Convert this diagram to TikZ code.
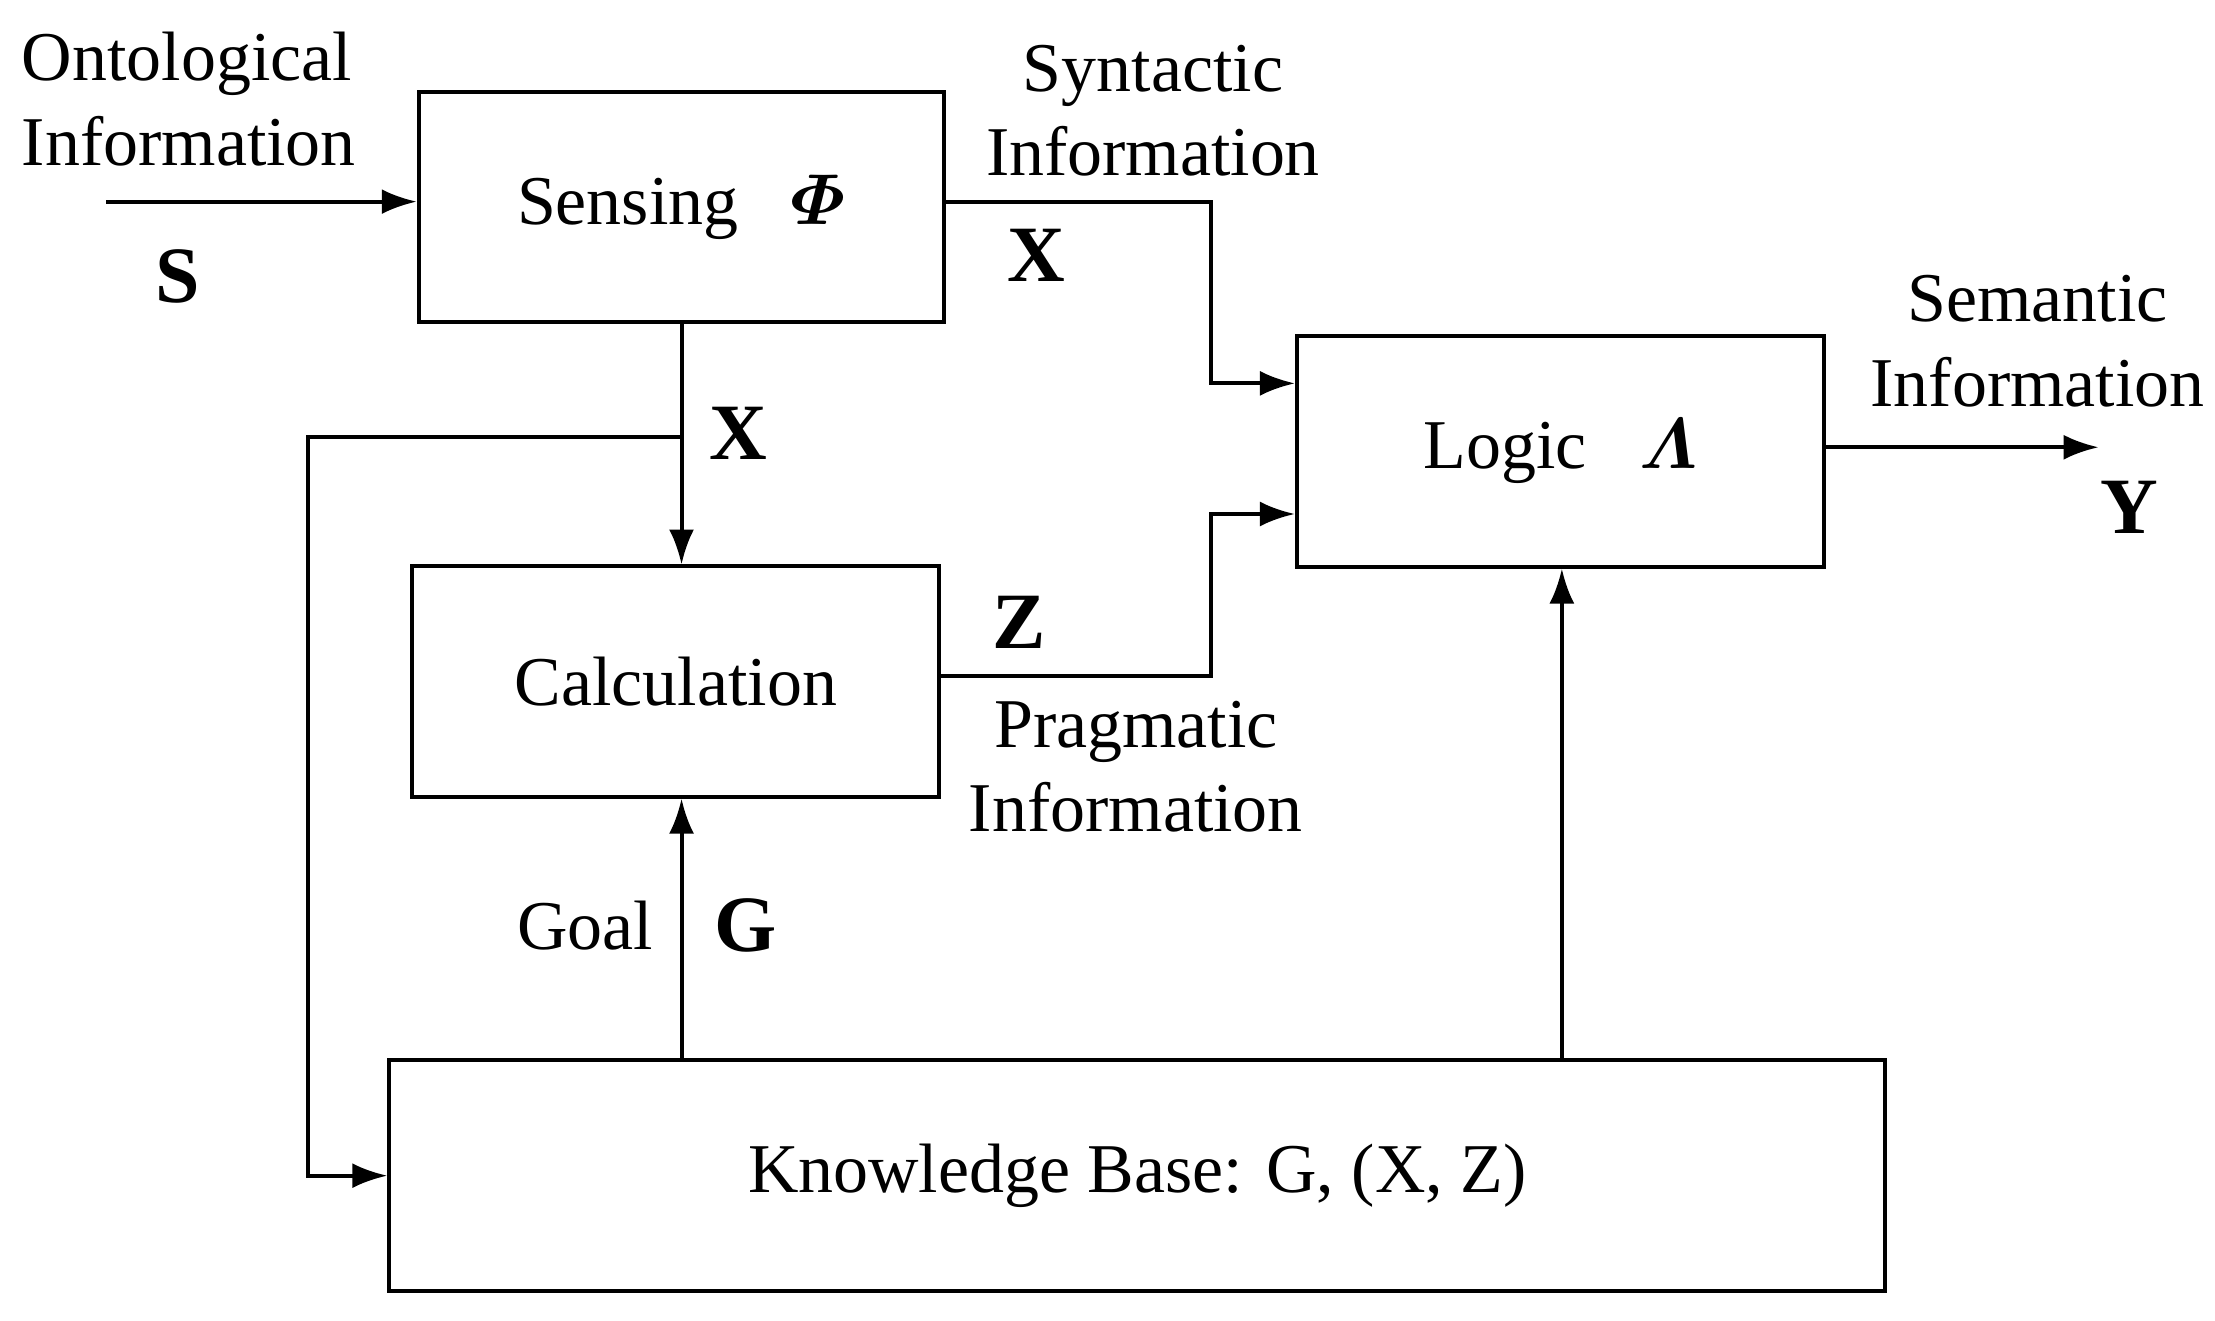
\documentclass[tikz,border=0pt]{standalone}
\usepackage{amsmath,amssymb}
\usepackage{fontspec}
\setmainfont{Liberation Serif}
\usetikzlibrary{arrows.meta}
\begin{document}
\begin{tikzpicture}[x=0.01cm,y=-0.01cm,
    blk/.style={draw, thick, inner sep=0pt},
    conn/.style={thick, -{Latex[length=7pt,width=5pt]}},
    lbl/.style={font=\fontsize{14}{17}\selectfont, align=center},
    sym/.style={font=\fontsize{16}{18}\selectfont\bfseries}]
\useasboundingbox (0,0) rectangle (1560,930);
% blocks
\node[blk, minimum width=3.7cm, minimum height=1.62cm, lbl] (sense) at (480,146) {Sensing \enspace $\boldsymbol{\varPhi}$};
\node[blk, minimum width=3.71cm, minimum height=1.62cm, lbl] (logic) at (1099,318) {Logic \enspace $\boldsymbol{\varLambda}$};
\node[blk, minimum width=3.71cm, minimum height=1.62cm, lbl] (calc) at (476,480) {Calculation};
\node[blk, minimum width=10.53cm, minimum height=1.63cm, lbl] (kb) at (801,828) {Knowledge Base: G, (X, Z)};
% free ends and bends
\coordinate (in) at (75,142);
\coordinate (out) at (1478,315);
\coordinate (split) at (480,308);
% connectors
\draw[conn] (in) -- (in -| sense.west);
\draw[conn] (sense.east |- in) -- (853,142) -- (853,270) -- (logic.west |- 0,270);
\draw[conn] (calc.east |- 0,476) -- (853,476) -- (853,362) -- (logic.west |- 0,362);
\draw[conn] (sense.south -| split) -- (calc.north -| split);
\draw[conn] (split) -- (217,308) -- (217,828) -- (kb.west |- 0,828);
\draw[conn] (kb.north -| split) -- (calc.south -| split);
\draw[conn] (kb.north -| 1100,0) -- (logic.south -| 1100,0);
\draw[conn] (logic.east |- out) -- (out);
% labels
\node[lbl, align=left] at (133,70) {Ontological\\Information};
\node[sym] at (125,195) {S};
\node[lbl] at (812,78) {Syntactic\\Information};
\node[sym] at (730,180) {X};
\node[sym] at (520,305) {X};
\node[sym] at (718,438) {Z};
\node[lbl] at (800,540) {Pragmatic\\Information};
\node[lbl] at (412,652) {Goal};
\node[sym] at (525,652) {G};
\node[lbl] at (1435,240) {Semantic\\Information};
\node[sym] at (1500,357) {Y};
\end{tikzpicture}
\end{document}
